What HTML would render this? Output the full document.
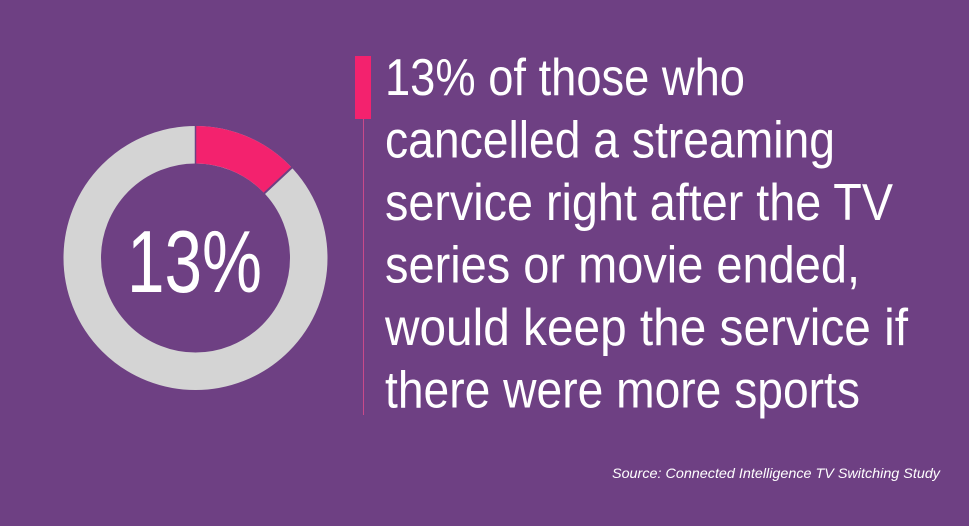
<!DOCTYPE html>
<html><head><meta charset="utf-8"><style>
html,body{margin:0;padding:0;background:#6e4083;}
svg{display:block}
</style></head><body>
<svg width="969" height="526" viewBox="0 0 969 526" xmlns="http://www.w3.org/2000/svg">
<rect width="969" height="526" fill="#6e4083"/>
<circle cx="195.5" cy="258" r="113.25" fill="none" stroke="#d4d4d4" stroke-width="37.5"/>
<path d="M195.5,126 A132,132 0 0 1 291.7,167.6 L264.4,193.3 A94.5,94.5 0 0 0 195.5,163.5 Z" fill="#f3226e"/>
<line x1="195.5" y1="124" x2="195.5" y2="165" stroke="#6e4083" stroke-width="1.5"/>
<line x1="263" y1="194.5" x2="293.5" y2="166" stroke="#6e4083" stroke-width="2"/>
<text x="127" y="292" font-family="Liberation Sans, sans-serif" font-size="88" fill="#fff" textLength="135" lengthAdjust="spacingAndGlyphs">13%</text>
<rect x="355" y="56" width="16" height="63" fill="#f3226e"/>
<line x1="363.5" y1="119" x2="363.5" y2="415" stroke="#c94a8a" stroke-width="1"/>
<g font-family="Liberation Sans, sans-serif" font-size="52" fill="#fff" lengthAdjust="spacingAndGlyphs">
<text x="385" y="95" textLength="360" lengthAdjust="spacingAndGlyphs">13% of those who</text>
<text x="385" y="157.5" textLength="450" lengthAdjust="spacingAndGlyphs">cancelled a streaming</text>
<text x="385" y="220" textLength="508" lengthAdjust="spacingAndGlyphs">service right after the TV</text>
<text x="385" y="282.5" textLength="475" lengthAdjust="spacingAndGlyphs">series or movie ended,</text>
<text x="385" y="345" textLength="523" lengthAdjust="spacingAndGlyphs">would keep the service if</text>
<text x="385" y="407.5" textLength="475" lengthAdjust="spacingAndGlyphs">there were more sports</text>
</g>
<text x="612" y="478" font-family="Liberation Sans, sans-serif" font-size="14" font-style="italic" fill="#fff" textLength="328" lengthAdjust="spacingAndGlyphs">Source: Connected Intelligence TV Switching Study</text>
</svg>
</body></html>
